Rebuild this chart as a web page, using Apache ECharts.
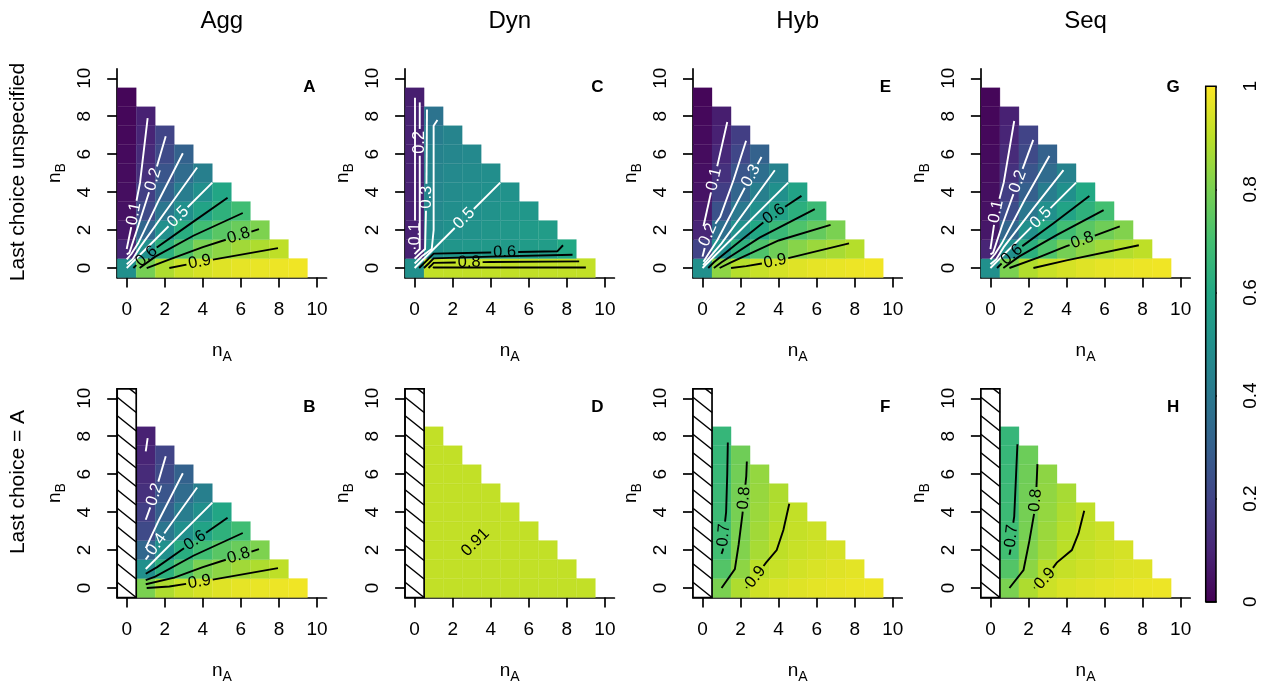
<!DOCTYPE html>
<html><head><meta charset="utf-8">
<script src="https://cdn.jsdelivr.net/npm/echarts@6/dist/echarts.min.js"></script>
<style>html,body{margin:0;padding:0;background:#fff}#c{width:1265px;height:688px}</style>
</head><body><div id="c"></div>
<script>
// ---------------- DATA ----------------
const modelNames = ['Agg', 'Dyn', 'Hyb', 'Seq'];
const rowNames = ['Last choice unspecified', 'Last choice = A'];
const xTicks = [0, 2, 4, 6, 8, 10];
const yTicks = [0, 2, 4, 6, 8, 10];
const barTicks = [0, 0.2, 0.4, 0.6, 0.8, 1];

// cell values: row index = nB (0..9), column index = nA (0..9-nB); null = undefined
const cellsA = [
  [0.5, 0.79, 0.88, 0.92, 0.94, 0.955, 0.965, 0.97, 0.975, 0.98],
  [0.1, 0.5, 0.63, 0.72, 0.8, 0.83, 0.86, 0.88, 0.905],
  [0.06, 0.33, 0.5, 0.62, 0.69, 0.74, 0.77, 0.805],
  [0.045, 0.22, 0.39, 0.5, 0.58, 0.64, 0.69],
  [0.035, 0.18, 0.3, 0.42, 0.5, 0.59],
  [0.03, 0.135, 0.26, 0.35, 0.43],
  [0.025, 0.12, 0.22, 0.31],
  [0.02, 0.1, 0.2],
  [0.018, 0.09],
  [0.015]
];
const cellsB = [
  [null, 0.8, 0.88, 0.92, 0.94, 0.955, 0.965, 0.97, 0.975, 0.98],
  [null, 0.5, 0.63, 0.72, 0.8, 0.83, 0.86, 0.88, 0.905],
  [null, 0.33, 0.5, 0.62, 0.69, 0.74, 0.77, 0.805],
  [null, 0.22, 0.39, 0.5, 0.58, 0.64, 0.69],
  [null, 0.18, 0.3, 0.42, 0.5, 0.59],
  [null, 0.135, 0.26, 0.35, 0.43],
  [null, 0.12, 0.22, 0.31],
  [null, 0.1, 0.2],
  [null, 0.09],
  [null]
];
const cellsC = [
  [0.5, 0.91, 0.91, 0.91, 0.91, 0.91, 0.91, 0.91, 0.91, 0.91],
  [0.09, 0.5, 0.52, 0.53, 0.535, 0.54, 0.545, 0.55, 0.6],
  [0.09, 0.48, 0.5, 0.51, 0.52, 0.53, 0.54, 0.55],
  [0.09, 0.47, 0.49, 0.5, 0.51, 0.52, 0.53],
  [0.09, 0.46, 0.48, 0.49, 0.5, 0.51],
  [0.09, 0.45, 0.47, 0.48, 0.49],
  [0.09, 0.44, 0.46, 0.47],
  [0.09, 0.42, 0.45],
  [0.09, 0.38],
  [0.08]
];
const cellsD = [
  [null, 0.91, 0.91, 0.91, 0.91, 0.91, 0.91, 0.91, 0.91, 0.91],
  [null, 0.91, 0.91, 0.91, 0.91, 0.91, 0.91, 0.91, 0.91],
  [null, 0.91, 0.91, 0.91, 0.91, 0.91, 0.91, 0.91],
  [null, 0.91, 0.91, 0.91, 0.91, 0.91, 0.91],
  [null, 0.91, 0.91, 0.91, 0.91, 0.91],
  [null, 0.91, 0.91, 0.91, 0.91],
  [null, 0.91, 0.91, 0.91],
  [null, 0.91, 0.91],
  [null, 0.91],
  [null]
];
const cellsE = [
  [0.5, 0.83, 0.89, 0.92, 0.94, 0.955, 0.965, 0.97, 0.975, 0.98],
  [0.2, 0.5, 0.64, 0.72, 0.78, 0.82, 0.85, 0.87, 0.89],
  [0.1, 0.36, 0.5, 0.6, 0.67, 0.72, 0.76, 0.8],
  [0.07, 0.25, 0.4, 0.5, 0.57, 0.63, 0.68],
  [0.05, 0.18, 0.32, 0.43, 0.5, 0.58],
  [0.04, 0.14, 0.26, 0.36, 0.44],
  [0.03, 0.11, 0.21, 0.31],
  [0.025, 0.09, 0.18],
  [0.02, 0.08],
  [0.015]
];
const cellsF = [
  [null, 0.80, 0.88, 0.93, 0.945, 0.955, 0.962, 0.968, 0.972, 0.975],
  [null, 0.73, 0.83, 0.90, 0.92, 0.935, 0.945, 0.955, 0.96],
  [null, 0.695, 0.81, 0.87, 0.905, 0.92, 0.93, 0.94],
  [null, 0.685, 0.80, 0.86, 0.895, 0.915, 0.925],
  [null, 0.68, 0.795, 0.85, 0.885, 0.91],
  [null, 0.675, 0.79, 0.845, 0.88],
  [null, 0.67, 0.785, 0.84],
  [null, 0.665, 0.78],
  [null, 0.66],
  [null]
];
const cellsG = [
  [0.5, 0.8, 0.885, 0.92, 0.94, 0.955, 0.965, 0.97, 0.975, 0.98],
  [0.1, 0.5, 0.63, 0.72, 0.79, 0.83, 0.86, 0.885, 0.905],
  [0.06, 0.33, 0.5, 0.61, 0.69, 0.74, 0.78, 0.81],
  [0.045, 0.23, 0.39, 0.5, 0.58, 0.64, 0.7],
  [0.035, 0.18, 0.3, 0.42, 0.5, 0.6],
  [0.03, 0.14, 0.26, 0.35, 0.44],
  [0.025, 0.12, 0.22, 0.31],
  [0.02, 0.1, 0.2],
  [0.018, 0.09],
  [0.015]
];
const cellsH = [
  [null, 0.80, 0.88, 0.925, 0.945, 0.955, 0.962, 0.968, 0.972, 0.975],
  [null, 0.73, 0.83, 0.895, 0.915, 0.93, 0.94, 0.95, 0.955],
  [null, 0.695, 0.81, 0.86, 0.9, 0.915, 0.93, 0.94],
  [null, 0.685, 0.795, 0.85, 0.89, 0.91, 0.925],
  [null, 0.68, 0.79, 0.84, 0.88, 0.905],
  [null, 0.675, 0.785, 0.835, 0.87],
  [null, 0.67, 0.78, 0.83],
  [null, 0.665, 0.775],
  [null, 0.66],
  [null]
];

// contour lines (level, path in [nA, nB])
const contoursA = [
  [0.1, [[0.0,1.0],[0.35,2.7],[0.7,4.5],[1.1,7.9]]],
  [0.2, [[0.0,0.72],[0.14,0.8],[0.6,2.2],[1.4,4.7],[2.05,6.95]]],
  [0.3, [[0.0,0.45],[0.25,0.75],[0.6,1.3],[1.7,3.6],[2.95,6.05]]],
  [0.4, [[0.0,0.2],[0.3,0.45],[0.7,1.1],[2.2,3.2],[3.7,5.3]]],
  [0.5, [[0,0],[4.5,4.5]]],
  [0.6, [[0.35,0.0],[0.6,0.25],[1.6,1.1],[3.3,2.3],[5.3,3.7]]],
  [0.7, [[0.68,0.0],[1.5,0.6],[3.5,1.7],[6.1,2.9]]],
  [0.8, [[1.05,0.0],[2.5,0.55],[4.0,1.1],[6.95,2.05]]],
  [0.9, [[2.24,0.0],[4.0,0.35],[7.95,1.05]]]
];
const contoursB = [
  [0.1, [[1.0,7.2],[1.1,7.9]]],
  [0.2, [[1.0,3.6],[1.4,4.7],[2.05,6.95]]],
  [0.3, [[1.0,2.1],[1.7,3.6],[2.95,6.05]]],
  [0.4, [[1.0,1.5],[2.2,3.2],[3.7,5.3]]],
  [0.5, [[1.0,1.0],[4.5,4.5]]],
  [0.6, [[1.0,0.75],[1.6,1.1],[3.3,2.3],[5.3,3.7]]],
  [0.7, [[1.0,0.42],[1.5,0.6],[3.5,1.7],[6.1,2.9]]],
  [0.8, [[1.0,0.2],[2.5,0.55],[4.0,1.1],[6.95,2.05]]],
  [0.9, [[1.05,0.0],[2.24,0.08],[4.0,0.35],[7.95,1.05]]]
];
const contoursC = [
  [0.1, [[0.0,1.0],[0.02,1.3],[0.02,8.98]]],
  [0.2, [[0.0,0.73],[0.13,0.87],[0.27,1.0],[0.27,8.73]]],
  [0.3, [[0.0,0.49],[0.26,0.74],[0.55,1.0],[0.62,4.0],[0.65,8.35]]],
  [0.4, [[0.0,0.24],[0.38,0.62],[0.9,1.0],[1.0,2.0],[1.0,7.5],[1.2,7.8]]],
  [0.5, [[0,0],[4.5,4.5]]],
  [0.6, [[0.24,0.0],[0.62,0.38],[1.0,0.76],[4.0,0.82],[7.5,0.88],[7.8,1.2]]],
  [0.7, [[0.49,0.0],[0.75,0.25],[1.0,0.51],[4.0,0.6],[8.3,0.7]]],
  [0.8, [[0.73,0.0],[0.87,0.13],[1.0,0.27],[4.0,0.32],[8.65,0.35]]],
  [0.9, [[0.97,0.0],[1.0,0.03],[9.0,0.03]]]
];
const contoursD = [];
const contoursE = [
  [0.1, [[0.05,2.2],[0.45,4.0],[0.85,5.7],[1.3,7.7]]],
  [0.2, [[0.0,0.6],[0.3,1.8],[0.93,2.7],[1.63,4.64],[2.29,6.71]]],
  [0.3, [[0.05,0.33],[0.8,1.5],[2.54,4.84],[3.1,5.85]]],
  [0.4, [[0.03,0.15],[1.0,1.3],[3.8,5.15]]],
  [0.5, [[0,0],[4.5,4.5]]],
  [0.6, [[0.3,0.0],[0.6,0.3],[1.7,1.2],[3.76,2.85],[5.2,3.8]]],
  [0.7, [[0.6,0.0],[1.0,0.3],[3.0,1.6],[5.9,3.1]]],
  [0.8, [[0.9,0.0],[1.5,0.3],[4.0,1.45],[6.73,2.27]]],
  [0.9, [[1.5,0.0],[2.3,0.1],[3.8,0.35],[7.7,1.3]]]
];
const contoursF = [
  [0.7, [[1.0,1.8],[1.07,2.0],[1.12,2.9],[1.24,4.0],[1.3,6.0],[1.33,7.67]]],
  [0.8, [[1.0,0.0],[1.7,1.0],[1.9,2.3],[2.1,3.9],[2.2,4.9],[2.3,5.9],[2.33,6.67]]],
  [0.9, [[2.3,0.0],[2.8,0.6],[3.34,1.34],[3.9,2.0],[4.25,3.06],[4.56,4.44]]]
];
const contoursG = [
  [0.1, [[0.0,1.0],[0.3,3.0],[0.7,4.5],[1.25,7.75]]],
  [0.2, [[0.0,0.72],[0.14,0.8],[0.6,2.2],[1.5,4.7],[2.25,6.75]]],
  [0.3, [[0.0,0.45],[0.25,0.75],[0.6,1.3],[1.8,3.6],[3.1,5.9]]],
  [0.4, [[0.0,0.2],[0.3,0.45],[0.7,1.1],[2.3,3.2],[3.84,5.16]]],
  [0.5, [[0,0],[4.5,4.5]]],
  [0.6, [[0.35,0.0],[0.6,0.25],[1.6,1.1],[3.3,2.35],[5.2,3.8]]],
  [0.7, [[0.68,0.0],[1.5,0.6],[3.5,1.75],[5.95,3.05]]],
  [0.8, [[1.0,0.0],[2.5,0.55],[4.0,1.15],[6.8,2.2]]],
  [0.9, [[2.26,0.0],[4.0,0.4],[7.8,1.2]]]
];
const contoursH = [
  [0.7, [[1.0,1.75],[1.04,1.92],[1.12,2.9],[1.25,3.76],[1.35,6.0],[1.42,7.58]]],
  [0.8, [[1.0,0.0],[1.74,0.95],[2.05,2.5],[2.3,3.94],[2.4,4.9],[2.44,5.8],[2.47,6.53]]],
  [0.9, [[2.3,0.0],[2.88,0.51],[3.49,1.34],[4.28,2.0],[4.63,2.88],[4.93,4.07]]]
];

// ---------------- LAYOUT / STYLE ----------------
// label placement along each contour: [level, fraction of path length]
const labelSpots = {
  A: [[0.1,0.27],[0.2,0.64],[0.5,0.6],[0.6,0.15],[0.8,0.82],[0.9,0.28]],
  B: [[0.2,0.4],[0.4,0.21],[0.6,0.6],[0.8,0.82],[0.9,0.4]],
  C: [[0.1,0.1],[0.2,0.74],[0.3,0.43],[0.5,0.58],[0.6,0.6],[0.8,0.28]],
  D: [],
  E: [[0.1,0.45],[0.2,0.18],[0.3,0.82],[0.6,0.72],[0.9,0.37]],
  F: [[0.7,0.17],[0.8,0.72],[0.9,0.15]],
  G: [[0.1,0.29],[0.2,0.64],[0.5,0.59],[0.6,0.17],[0.8,0.66]],
  H: [[0.7,0.17],[0.8,0.72],[0.9,0.15]]
};
// free label for the constant panel D: [nA, nB, rotation deg]
const constLabelD = [3.2, 2.4, 45];

const FONT = "'Liberation Sans', Arial, Helvetica, sans-serif";
const viridis = ['#440154','#482576','#414487','#35608D','#2A788E','#21908C','#22A884','#43BF71','#7AD151','#BBDF27','#FDE725'];
const L0 = 117.2, DX = 287.9, GW = 209.3, T0 = 68.8, DY = 320, GH = 208.7;
const TICK_FS = 19, CLAB_FS = 16.5;
const panels = [
  {id:'A', col:0, row:0, cells:cellsA, cont:contoursA},
  {id:'B', col:0, row:1, cells:cellsB, cont:contoursB},
  {id:'C', col:1, row:0, cells:cellsC, cont:contoursC},
  {id:'D', col:1, row:1, cells:cellsD, cont:contoursD},
  {id:'E', col:2, row:0, cells:cellsE, cont:contoursE},
  {id:'F', col:2, row:1, cells:cellsF, cont:contoursF},
  {id:'G', col:3, row:0, cells:cellsG, cont:contoursG},
  {id:'H', col:3, row:1, cells:cellsH, cont:contoursH}
];

const AXW = 1.7;
const grid = [], xAxis = [], yAxis = [], series = [], heatIdx = [], graphics = [];

function labelWidth(t, fs) {
  let w = 0;
  for (const ch of t) w += (ch === '.' ? 0.278 : 0.556);
  return w * fs;
}

function contourRender(list, spots) {
  return function (params, api) {
    const c = list[params.dataIndex];
    const level = c[0];
    const pts = c[1].map(p => api.coord(p));
    const color = level <= 0.5 ? '#ffffff' : '#000000';
    const lineStyle = {stroke: color, lineWidth: 1.9, fill: null};
    const spot = spots.find(s => Math.abs(s[0] - level) < 1e-9);
    const children = [];
    if (!spot) {
      children.push({type: 'polyline', shape: {points: pts}, style: lineStyle});
      return {type: 'group', children};
    }
    const cum = [0];
    for (let i = 1; i < pts.length; i++) {
      cum.push(cum[i-1] + Math.hypot(pts[i][0]-pts[i-1][0], pts[i][1]-pts[i-1][1]));
    }
    const total = cum[cum.length-1];
    const at = s => {
      s = Math.max(0, Math.min(total, s));
      for (let i = 1; i < pts.length; i++) {
        if (s <= cum[i] + 1e-9) {
          const t = (s - cum[i-1]) / Math.max(1e-9, cum[i]-cum[i-1]);
          return [pts[i-1][0] + t*(pts[i][0]-pts[i-1][0]), pts[i-1][1] + t*(pts[i][1]-pts[i-1][1])];
        }
      }
      return pts[pts.length-1];
    };
    const text = String(level);
    const fs = CLAB_FS;
    const half = labelWidth(text, fs) / 2 + 2;
    const s0 = spot[1] * total;
    const sA = s0 - half, sB = s0 + half;
    const part1 = [], part2 = [];
    if (sA > 0) {
      for (let i = 0; i < pts.length && cum[i] < sA; i++) part1.push(pts[i]);
      part1.push(at(sA));
    }
    if (sB < total) {
      part2.push(at(sB));
      for (let i = 0; i < pts.length; i++) if (cum[i] > sB) part2.push(pts[i]);
    }
    if (part1.length > 1) children.push({type: 'polyline', shape: {points: part1}, style: lineStyle});
    if (part2.length > 1) children.push({type: 'polyline', shape: {points: part2}, style: lineStyle});
    const pa = at(sA), pb = at(sB), pc = at(s0);
    let ang = Math.atan2(-(pb[1]-pa[1]), pb[0]-pa[0]);
    if (ang > Math.PI/2) ang -= Math.PI;
    if (ang < -Math.PI/2) ang += Math.PI;
    children.push({type: 'text', x: pc[0], y: pc[1], rotation: ang,
      style: {text: text, fill: color, font: fs + 'px ' + FONT, align: 'center', verticalAlign: 'middle',
              textAlign: 'center', textVerticalAlign: 'middle'}});
    return {type: 'group', children};
  };
}

const nameRich = {
  n: {fontSize: 19, fontFamily: FONT, color: '#000', lineHeight: 21},
  s: {fontSize: 14, fontFamily: FONT, color: '#000', lineHeight: 14, padding: [13, 0, 0, 0]}
};

panels.forEach((p, i) => {
  const left = L0 + p.col * DX, top = T0 + p.row * DY;
  grid.push({left: left, top: top, width: GW, height: GH, containLabel: false});
  xAxis.push({
    gridIndex: i, type: 'value', min: -0.5, max: 10.5,
    axisLine: {show: true, onZero: false, lineStyle: {color: '#000', width: AXW}},
    axisTick: {show: true, customValues: xTicks, length: 10, lineStyle: {color: '#000', width: AXW}},
    axisLabel: {show: true, customValues: xTicks, color: '#000', fontSize: TICK_FS, fontFamily: FONT, margin: 23},
    splitLine: {show: false},
    name: '{n|n}{s|A}', nameLocation: 'middle', nameGap: 63,
    nameTextStyle: {color: '#000', rich: nameRich}
  });
  yAxis.push({
    gridIndex: i, type: 'value', min: -0.5, max: 10.5,
    axisLine: {show: true, onZero: false, lineStyle: {color: '#000', width: AXW}},
    axisTick: {show: true, customValues: yTicks, length: 10, lineStyle: {color: '#000', width: AXW}},
    axisLabel: {show: true, customValues: yTicks, color: '#000', fontSize: TICK_FS, fontFamily: FONT, margin: 23, rotate: 90},
    splitLine: {show: false},
    name: '{n|n}{s|B}', nameLocation: 'middle', nameGap: 52, nameRotate: 90,
    nameTextStyle: {color: '#000', rich: nameRich}
  });

  // heat cells
  const data = [];
  p.cells.forEach((row, b) => row.forEach((v, a) => { if (v != null) data.push([a, b, v]); }));
  heatIdx.push(series.length);
  series.push({
    type: 'custom', xAxisIndex: i, yAxisIndex: i, data: data, encode: {x: 0, y: 1}, z: 1, silent: true,
    renderItem: function (params, api) {
      const a = api.value(0), b = api.value(1);
      const p0 = api.coord([a - 0.5, b + 0.5]), p1 = api.coord([a + 0.5, b - 0.5]);
      const col = api.visual('color');
      return {type: 'rect', shape: {x: p0[0], y: p0[1], width: p1[0]-p0[0], height: p1[1]-p0[1]},
              style: {fill: col, stroke: col, lineWidth: 0.3}};
    }
  });

  // hatched column where nA = 0 is undefined
  if (p.cells.every(row => row[0] == null)) {
    series.push({
      type: 'custom', xAxisIndex: i, yAxisIndex: i, data: [[0, 0]], z: 3, silent: true,
      renderItem: function (params, api) {
        const tl = api.coord([-0.5, 10.5]), br = api.coord([0.5, -0.5]);
        const x0 = tl[0], yT = tl[1], x1 = br[0], yB = br[1];
        const kids = [{type: 'rect', shape: {x: x0, y: yT, width: x1-x0, height: yB-yT},
                       style: {fill: '#fff', stroke: '#000', lineWidth: 1.7}}];
        const slope = 0.8, sp = 18.5;
        for (let c = yB - slope * x1; c > yT - slope * x1 - 40; c -= sp) {
          let xa = Math.max(x0, (yT - c) / slope), xb = Math.min(x1, (yB - c) / slope);
          if (xb - xa < 0.5) continue;
          kids.push({type: 'line', shape: {x1: xa, y1: slope*xa + c, x2: xb, y2: slope*xb + c},
                     style: {stroke: '#000', lineWidth: 1.5}});
        }
        return {type: 'group', children: kids};
      }
    });
  }

  // contour lines
  if (p.cont.length) {
    series.push({
      type: 'custom', xAxisIndex: i, yAxisIndex: i, data: p.cont.map((c, k) => [k, 0]), z: 5, silent: true,
      renderItem: contourRender(p.cont, labelSpots[p.id])
    });
  }

  // panel letter
  graphics.push({type: 'text', x: left + GW - 17, y: top + 18.4,
    style: {text: p.id, font: 'bold 17px ' + FONT, fill: '#000', align: 'center', verticalAlign: 'middle',
            textAlign: 'center', textVerticalAlign: 'middle'}});
});

// constant-value label in panel D
series.push({
  type: 'custom', xAxisIndex: 3, yAxisIndex: 3, data: [[constLabelD[0], constLabelD[1]]], z: 6, silent: true,
  renderItem: function (params, api) {
    const pt = api.coord([api.value(0), api.value(1)]);
    return {type: 'text', x: pt[0], y: pt[1], rotation: constLabelD[2] * Math.PI / 180,
      style: {text: String(cellsD[0][1]), fill: '#000', font: CLAB_FS + 'px ' + FONT, align: 'center', verticalAlign: 'middle',
              textAlign: 'center', textVerticalAlign: 'middle'}};
  }
});

// colour bar
const cbIndex = panels.length;
grid.push({left: 1205.7, top: 86.3, width: 10.3, height: 515.4});
xAxis.push({gridIndex: cbIndex, type: 'value', min: 0, max: 1, show: false});
yAxis.push({gridIndex: cbIndex, type: 'value', min: 0, max: 1, interval: 0.2, position: 'right',
  axisLine: {show: false},
  axisTick: {show: true, length: 11, lineStyle: {color: '#000', width: AXW}},
  axisLabel: {color: '#000', fontSize: TICK_FS, fontFamily: FONT, rotate: 90, margin: 25,
    formatter: v => (v === 0 ? '0' : v === 1 ? '1' : v.toFixed(1))},
  splitLine: {show: false}});
series.push({
  type: 'custom', xAxisIndex: cbIndex, yAxisIndex: cbIndex, data: [[0, 0]], silent: true, z: 2,
  renderItem: function (params, api) {
    const tl = api.coord([0, 1]), br = api.coord([1, 0]);
    const stops = viridis.map((c, k) => ({offset: k / (viridis.length - 1), color: c}));
    return {type: 'rect', shape: {x: tl[0], y: tl[1], width: br[0]-tl[0], height: br[1]-tl[1]},
      style: {fill: new echarts.graphic.LinearGradient(0, 1, 0, 0, stops), stroke: '#000', lineWidth: 1.5}};
  }
});

// column titles and row labels
modelNames.forEach((m, k) => {
  graphics.push({type: 'text', x: L0 + k * DX + GW / 2, y: 21,
    style: {text: m, font: '24px ' + FONT, fill: '#000', align: 'center', verticalAlign: 'middle',
            textAlign: 'center', textVerticalAlign: 'middle'}});
});
[172, 482].forEach((y, r) => {
  graphics.push({type: 'text', x: 18, y: y, rotation: Math.PI / 2,
    style: {text: rowNames[r], font: '21px ' + FONT, fill: '#000', align: 'center', verticalAlign: 'middle',
            textAlign: 'center', textVerticalAlign: 'middle'}});
});

const chart = echarts.init(document.getElementById('c'), null, {renderer: 'canvas'});
chart.setOption({
  backgroundColor: '#fff',
  animation: false,
  grid: grid, xAxis: xAxis, yAxis: yAxis,
  visualMap: {type: 'continuous', show: false, min: 0, max: 1, dimension: 2, seriesIndex: heatIdx,
    inRange: {color: viridis}},
  series: series,
  graphic: {elements: graphics}
});
</script></body></html>
